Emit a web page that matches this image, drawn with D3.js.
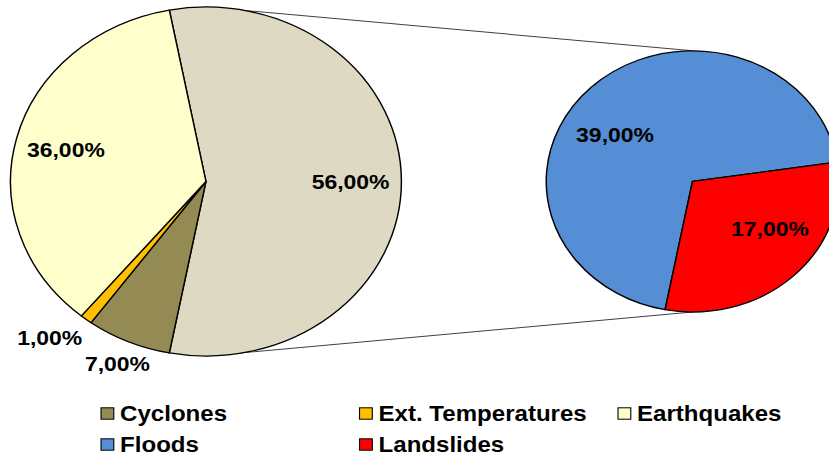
<!DOCTYPE html>
<html>
<head>
<meta charset="utf-8">
<script src="https://cdnjs.cloudflare.com/ajax/libs/d3/7.8.5/d3.min.js"></script>
<style>
  html, body { margin: 0; padding: 0; background: #fff; }
  svg { display: block; }
  text { font-family: "Liberation Sans", Arial, sans-serif; font-weight: bold; fill: #000; }
</style>
</head>
<body>
<svg width="829" height="457"></svg>
<script>
// data
var mainCats = ['Cyclones', 'Ext. Temperatures', 'Earthquakes'];
var mainVals = [7, 1, 36];
var subCats = ['Floods', 'Landslides'];
var subVals = [39, 17];
var legendCats = ['Cyclones', 'Ext. Temperatures', 'Earthquakes', 'Floods', 'Landslides'];

var colors = {
	'Cyclones': '#948A54',
	'Ext. Temperatures': '#FFC000',
	'Earthquakes': '#FFFFCC',
	'Other': '#DDD9C3',
	'Floods': '#558ED5',
	'Landslides': '#FF0000'
};

var fmt = v => d3.format('.2f')(v).replace('.', ',') + '%';

var sx = 1.12; // picture is a bit wider than tall
var svg = d3.select('svg');
var g = svg.append('g').attr('transform', `scale(${sx},1)`);

var c1 = {x: 183.9, y: 181.5, r: 174.5};
var c2 = {x: 618.3, y: 181.4, r: 130.6};

var otherVal = d3.sum(subVals);
var mainData = [{name: 'Other', value: otherVal}]
	.concat(mainCats.map((c, i) => ({name: c, value: mainVals[i]})));
var subData = subCats.map((c, i) => ({name: c, value: subVals[i]}));

var total = otherVal + d3.sum(mainVals);
var otherAng = otherVal / total * 2 * Math.PI;
var start1 = Math.PI / 2 - otherAng / 2;
var end1 = start1 + otherAng;

var pie1 = d3.pie().sort(null).value(d => d.value).startAngle(start1).endAngle(start1 + 2 * Math.PI);
var pie2 = d3.pie().sort(null).value(d => d.value).startAngle(end1 - 2 * Math.PI).endAngle(end1);

var arcs1 = pie1(mainData);
var arcs2 = pie2(subData);

// connector lines
var conn = g.append('g');
[[c1.y - c1.r, c2.y - c2.r], [c1.y + c1.r, c2.y + c2.r]].forEach(p => {
	conn.append('line')
		.attr('x1', c1.x).attr('y1', p[0])
		.attr('x2', c2.x).attr('y2', p[1])
		.attr('stroke', '#404040').attr('stroke-width', 1);
});

function drawPie(arcs, c) {
	var arc = d3.arc().innerRadius(0).outerRadius(c.r);
	var pg = g.append('g').attr('transform', `translate(${c.x},${c.y})`);
	pg.selectAll('path').data(arcs).enter().append('path')
		.attr('d', arc)
		.attr('fill', d => colors[d.data.name])
		.attr('stroke', '#000')
		.attr('stroke-width', 1.3)
		.attr('stroke-linejoin', 'round');
	return pg;
}

var p1 = drawPie(arcs1, c1);
var p2 = drawPie(arcs2, c2);

// labels
var tweak = {'Ext. Temperatures': {k: 1.2, da: 4}};
function labelPos(d, r, k, da) {
	var a = (d.startAngle + d.endAngle) / 2 + da * Math.PI / 180;
	return [Math.sin(a) * r * k, -Math.cos(a) * r * k];
}

p1.selectAll('text').data(arcs1).enter().append('text')
	.attr('transform', d => {
		var t = tweak[d.data.name];
		var k = t ? t.k : (d.value / total < 0.1 ? 1.14 : 0.74);
		var pos = labelPos(d, c1.r, k, t ? t.da : 0);
		return `translate(${pos[0]},${pos[1]})`;
	})
	.attr('text-anchor', 'middle')
	.attr('dy', '0.35em')
	.style('font-size', '20.5px')
	.text(d => fmt(d.value));

p2.selectAll('text').data(arcs2).enter().append('text')
	.attr('transform', d => {
		var pos = labelPos(d, c2.r, 0.64, -12);
		return `translate(${pos[0]},${pos[1]})`;
	})
	.attr('text-anchor', 'middle')
	.attr('dy', '0.35em')
	.style('font-size', '20.5px')
	.text(d => fmt(d.value));

// legend
var lx = 90.2, colW = 230.8, ly = 407.8, rowH = 31, sw = 11.4;
var leg = g.append('g');
legendCats.forEach((c, i) => {
	var col = i % 3, row = Math.floor(i / 3);
	var x = lx + col * colW, y = ly + row * rowH;
	leg.append('rect')
		.attr('x', x).attr('y', y)
		.attr('width', sw).attr('height', sw)
		.attr('fill', colors[c])
		.attr('stroke', '#000').attr('stroke-width', 1);
	leg.append('text')
		.attr('x', x + 17).attr('y', y + 13.3)
		.style('font-size', '21.5px')
		.text(c);
});
</script>
</body>
</html>
